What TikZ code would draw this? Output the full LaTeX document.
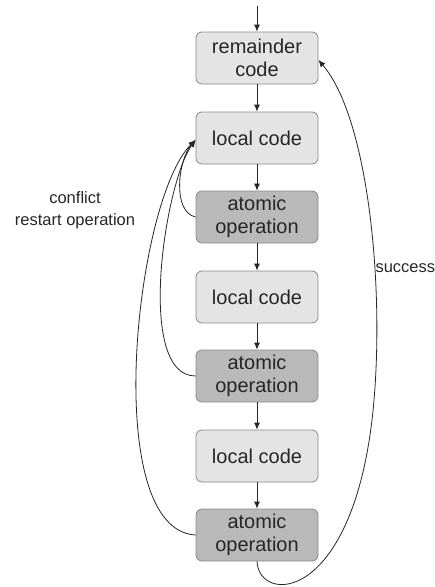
\documentclass[tikz,border=0pt]{standalone}
\usepackage{fontspec}
\setmainfont{Liberation Sans}
\usetikzlibrary{arrows.meta}
\definecolor{lightbox}{HTML}{E4E4E4}
\definecolor{darkbox}{HTML}{B9B9B9}
\definecolor{boxline}{HTML}{8A8A8A}
\begin{document}
\begin{tikzpicture}[x=1pt,y=-1pt,
  codebox/.style={draw=boxline, line width=0.8pt, fill=lightbox, rounded corners=6pt,
    minimum width=122pt, minimum height=52pt, inner sep=0pt, align=center,
    font=\fontsize{20}{23}\selectfont, text=black!85},
  atombox/.style={codebox, fill=darkbox},
  flow/.style={line width=0.8pt, draw=black!85, -{Latex[length=7pt,width=6pt]}},
  lbl/.style={font=\fontsize{16.5}{22}\selectfont, align=center, text=black!85}]
\useasboundingbox (0,0) rectangle (435,587);
\node[codebox] (r) at (257,58) {remainder\\code};
\node[codebox] (l1) at (257,138) {local code};
\node[atombox] (a1) at (257,217) {atomic\\operation};
\node[codebox] (l2) at (257,297) {local code};
\node[atombox] (a2) at (257,376) {atomic\\operation};
\node[codebox] (l3) at (257,456) {local code};
\node[atombox] (a3) at (257,535) {atomic\\operation};
\coordinate (top) at (257,6);
\draw[flow] (top) -- (r);
\draw[flow] (r) -- (l1);
\draw[flow] (l1) -- (a1);
\draw[flow] (a1) -- (l2);
\draw[flow] (l2) -- (a2);
\draw[flow] (a2) -- (l3);
\draw[flow] (l3) -- (a3);
% conflict curves
\draw[flow] (a1.west) .. controls (172,212) and (178,160) .. ([yshift=-2pt]l1.west);
\draw[flow] (a2.west) .. controls (135,376) and (165,182) .. ([yshift=-2pt]l1.west);
\draw[flow] (a3.west) .. controls (100,530) and (135,200) .. ([yshift=-2pt]l1.west);
% success curve
\draw[flow] (a3.south) .. controls (259,604) and (350,604) .. (372,420)
  .. controls (386,300) and (370,120) .. ([yshift=-2pt]r.east);
\node[lbl] (conf) at (75,210) {conflict\\restart operation};
\node[lbl, anchor=west] (succ) at (372,268) {success};
\end{tikzpicture}
\end{document}
